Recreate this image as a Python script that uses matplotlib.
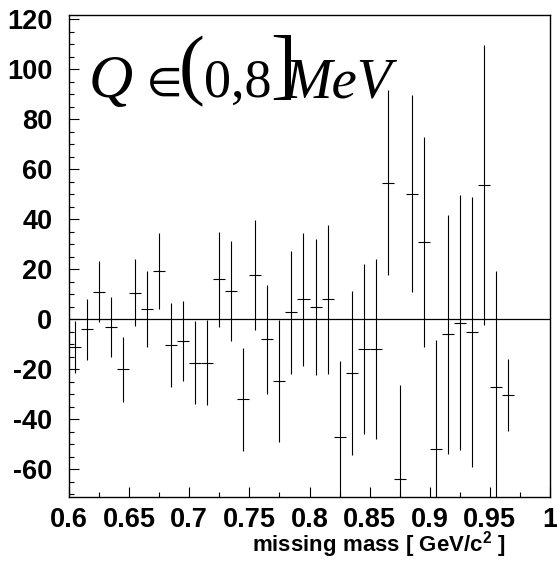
import matplotlib
matplotlib.use("Agg")
import matplotlib.pyplot as plt
import numpy as np

plt.rcParams['axes.unicode_minus'] = False
plt.rcParams['mathtext.fontset'] = 'custom'
plt.rcParams['mathtext.rm'] = 'Liberation Sans'
plt.rcParams['mathtext.bf'] = 'Liberation Sans:bold'

# bin centers (missing mass, GeV/c^2)
mass = [0.605, 0.615, 0.625, 0.635, 0.645, 0.655, 0.665, 0.675, 0.685, 0.695,
        0.705, 0.715, 0.725, 0.735, 0.745, 0.755, 0.765, 0.775, 0.785, 0.795,
        0.805, 0.815, 0.825, 0.835, 0.845, 0.855, 0.865, 0.875, 0.885, 0.895,
        0.905, 0.915, 0.925, 0.935, 0.945, 0.955, 0.965]
counts = [-11, -4, 11, -3, -20, 10.7, 4.3, 19.5, -10.3, -8.8,
          -17.3, -17.3, 16.1, 11.3, -32, 17.6, -7.9, -24.7, 2.8, 8,
          4.9, 8.1, -47.2, -21.6, -12, -12, 54.6, -64, 50.3, 30.9,
          -51.9, -5.9, -1.3, -4.9, 53.6, -27.2, -30.3]
errors = [10.5, 12.3, 12.2, 12, 13, 13.3, 15.2, 15.2, 16.7, 16,
          16.6, 17, 19, 20, 20.5, 22, 21.8, 24.3, 24.7, 26.5,
          27.3, 29.8, 30.7, 32.8, 34, 36, 37, 37.7, 39.4, 42,
          43.6, 47.8, 51, 54, 56, 46.5, 14.3]
bin_half = 0.005

W, H = 557, 564
fig = plt.figure(figsize=(W/100, H/100), dpi=100)
ax = fig.add_axes([69/W, 1-497/H, (550-69)/W, (497-15)/H])

ax.errorbar(mass, counts, yerr=errors, xerr=bin_half, fmt='none',
            ecolor='black', elinewidth=0.8, capsize=0)
ax.axhline(0, color='black', lw=0.9)

ax.set_xlim(0.6, 1.0)
ax.set_ylim(-71, 121.7)
ax.set_xticks([0.6, 0.65, 0.7, 0.75, 0.8, 0.85, 0.9, 0.95, 1.0])
ax.set_xticklabels(['0.6', '0.65', '0.7', '0.75', '0.8', '0.85', '0.9', '0.95', '1'])
ax.set_xticks(np.arange(0.6, 1.0, 0.025), minor=True)
ax.set_yticks([-60, -40, -20, 0, 20, 40, 60, 80, 100, 120])
ax.set_yticks(np.arange(-70, 121, 5), minor=True)
for lab in ax.get_xticklabels() + ax.get_yticklabels():
    lab.set_fontfamily('Liberation Sans')
    lab.set_fontweight('bold')
    lab.set_fontsize(19.5)
ax.tick_params(axis='both', which='major', direction='in', length=7.5, width=0.8,
               top=False, right=False)
ax.tick_params(axis='both', which='minor', direction='in', length=3.8, width=0.8,
               top=False, right=False)
ax.tick_params(axis='x', pad=7)
ax.tick_params(axis='y', pad=12)
for s in ax.spines.values():
    s.set_linewidth(1.0)

def fx(px):
    return px / W

def fy(py):
    return 1 - py / H

fig.text(fx(506), fy(552), 'missing mass [ GeV/c$^{\\mathbf{2}}$ ]',
         ha='right', va='baseline', fontsize=16, fontweight='bold',
         family='Liberation Sans')

# title pieces
fig.text(fx(89), fy(97), 'Q', family='Liberation Serif', style='italic',
         fontsize=44, ha='left', va='baseline')
fig.text(fx(139), fy(95), r'$\in$', math_fontfamily='stix',
         fontsize=37, ha='left', va='baseline')
fig.text(fx(179), fy(90), '(', family='Liberation Serif',
         fontsize=56, ha='left', va='baseline')
fig.text(fx(204), fy(97), '0,8', family='Liberation Serif',
         fontsize=39, ha='left', va='baseline')
fig.text(fx(270), fy(90), ']', family='Liberation Serif',
         fontsize=56, ha='left', va='baseline')
fig.text(fx(285), fy(97), 'MeV', family='Liberation Serif', style='italic',
         fontsize=41, ha='left', va='baseline')

fig.savefig('out.png', dpi=100)
